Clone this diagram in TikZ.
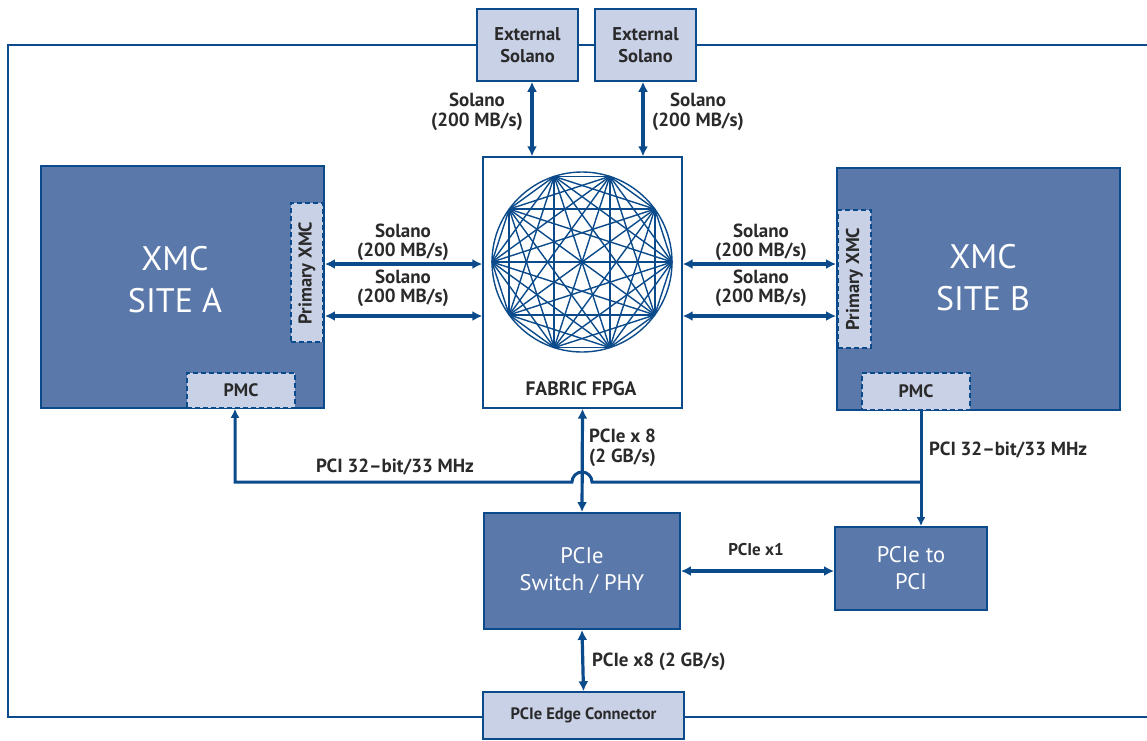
\documentclass[tikz,border=0pt]{standalone}
\usepackage{fontspec}
\setmainfont{PT Sans}
\usetikzlibrary{arrows.meta,calc}

\definecolor{navy}{HTML}{0B4A8B}
\definecolor{midblue}{HTML}{5B78AA}
\definecolor{paleblue}{HTML}{C9D1E6}
\definecolor{ink}{HTML}{2A2A2A}

\tikzset{
  x=1pt, y=-1pt,
  frame/.style={draw=navy, line width=2.4pt},
  darkbox/.style={rectangle, draw=navy, line width=1.8pt, fill=midblue, inner sep=0pt,
                  text=white, align=center},
  palebox/.style={rectangle, draw=navy, line width=1.5pt, fill=paleblue, inner sep=0pt,
                  text=ink, align=center, font=\bfseries\fontsize{18.5}{22}\selectfont},
  slot/.style={rectangle, draw=navy, line width=1.5pt, dash pattern=on 5pt off 3pt,
               fill=paleblue, inner sep=0pt, text=ink, align=center,
               font=\bfseries\fontsize{18}{20}\selectfont},
  fpgabox/.style={rectangle, draw=navy, line width=1.3pt, fill=white, inner sep=0pt},
  link/.style={draw=navy, line width=3.2pt,
               {Latex[length=10pt,width=10pt]}-{Latex[length=10pt,width=10pt]}},
  bus/.style={draw=navy, line width=3pt},
  tip/.style={-{Latex[length=9pt,width=9pt]}},
  lbl/.style={text=ink, font=\bfseries\fontsize{19}{19.5}\selectfont, inner sep=0pt},
  sitetext/.style={text=white, font=\fontsize{34}{42}\selectfont, align=center, inner sep=0pt},
  slottext/.style={rotate=90, text=ink, font=\bfseries\fontsize{18.5}{20}\selectfont, inner sep=0pt},
  mesh/.style={draw=navy, line width=1.4pt},
}

\begin{document}
\begin{tikzpicture}
\useasboundingbox (0,0) rectangle (1147,740);

% carrier board outline
\draw[frame] (1150,45) -- (8,45) -- (8,717) -- (1150,717);

% blocks
\node[palebox, minimum width=101pt, minimum height=72pt] (extA) at (527.5,45) {External\\Solano};
\node[palebox, minimum width=101pt, minimum height=72pt] (extB) at (645.5,45) {External\\Solano};

\node[fpgabox, minimum width=199pt, minimum height=251pt] (fpga) at (582.5,282.5) {};
\node[text=ink, font=\bfseries\fontsize{19.5}{22}\selectfont, inner sep=0pt] (fpgalbl) at (581,389) {FABRIC FPGA};

\node[darkbox, minimum width=283pt, minimum height=242pt] (siteA) at (182.5,287) {};
\node[sitetext] (siteAlbl) at (175,280) {XMC\\SITE A};
\node[slot, minimum width=32pt, minimum height=139pt] (primA) at (307,272.5) {};
\node[slottext] (primAlbl) at (307,273) {Primary XMC};
\node[slot, minimum width=108pt, minimum height=35pt] (pmcA) at (241,390.5) {PMC};

\node[darkbox, minimum width=283pt, minimum height=242pt] (siteB) at (978.5,289) {};
\node[sitetext] (siteBlbl) at (983,278) {XMC\\SITE B};
\node[slot, minimum width=33pt, minimum height=138pt] (primB) at (854.5,279) {};
\node[slottext] (primBlbl) at (854.5,279) {Primary XMC};
\node[slot, minimum width=108pt, minimum height=37pt] (pmcB) at (916,391.5) {PMC};

\node[darkbox, minimum width=196pt, minimum height=116pt,
      font=\fontsize{22.5}{27}\selectfont] (sw) at (582,571) {PCIe\\Switch / PHY};
\node[darkbox, minimum width=152pt, minimum height=83pt,
      font=\fontsize{22.5}{27}\selectfont] (p2p) at (911,568.5) {PCIe to\\PCI};
\node[palebox, minimum width=201pt, minimum height=47pt,
      font=\bfseries\fontsize{16.5}{19}\selectfont] (edge) at (583.5,715.5) {PCIe Edge Connector};

% fabric crossbar: complete graph on ten ports
\coordinate (hub) at (582,262);
\draw[mesh] (hub) circle[radius=90];
\foreach \i in {0,...,9} {
  \coordinate (v\i) at ($(hub)+(\i*36:90)$);
}
\foreach \i in {0,...,8} {
  \pgfmathtruncatemacro{\nxt}{\i+1}
  \foreach \j in {\nxt,...,9} {
    \draw[mesh] (v\i) -- (v\j);
  }
}

% Solano links
\draw[link] ([xshift=4.5pt]extA.south) -- ([xshift=4.5pt]extA.south |- fpga.north);
\draw[link] ([xshift=-2.5pt]extB.south) -- ([xshift=-2.5pt]extB.south |- fpga.north);
\node[lbl, align=center, anchor=east] (solE1) at (523,112) {Solano\\(200 MB/s)};
\node[lbl, align=center, anchor=west] (solE2) at (652,112) {Solano\\(200 MB/s)};

\draw[link] (siteA.east |- 0,264) -- (fpga.west |- 0,264);
\draw[link] (siteA.east |- 0,316) -- (fpga.west |- 0,316);
\draw[link] (fpga.east |- 0,264) -- (siteB.west |- 0,264);
\draw[link] (fpga.east |- 0,316) -- (siteB.west |- 0,316);
\node[lbl, align=center] (solA1) at (403,242.5) {Solano\\(200 MB/s)};
\node[lbl, align=center] (solA2) at (403,288.5) {Solano\\(200 MB/s)};
\node[lbl, align=center] (solB1) at (761,242.5) {Solano\\(200 MB/s)};
\node[lbl, align=center] (solB2) at (761,288.5) {Solano\\(200 MB/s)};

% PCIe links
\draw[link] (fpga.south) -- (sw.north);
\node[lbl, align=left, anchor=west] (x8a) at (589,448) {PCIe x 8\\(2 GB/s)};
\draw[link] (sw.east) -- (p2p.west |- sw.east);
\node[lbl, font=\bfseries\fontsize{17}{19}\selectfont] (x1) at (756,550) {PCIe x1};
\draw[link] (sw.south) -- (edge.north);
\node[lbl, anchor=west] (x8b) at (592,662) {PCIe x8 (2 GB/s)};

% PCI bus between the PMC sites and the bridge
\coordinate (tap) at (921,482);
\draw[bus, tip] ([xshift=5pt]pmcB.south) -- ([xshift=10pt]p2p.north);
\draw[bus, tip] (tap) -- (592,482)
  .. controls (592,476.5) and (587.5,472) .. (582,472)
  .. controls (576.5,472) and (572,476.5) .. (572,482)
  -- (235,482) -- ([xshift=-6pt]pmcA.south);
\node[lbl, anchor=west] (pciB) at (929,450) {PCI 32–bit/33 MHz};
\node[lbl] (pciA) at (395,467) {PCI 32–bit/33 MHz};
\end{tikzpicture}
\end{document}
